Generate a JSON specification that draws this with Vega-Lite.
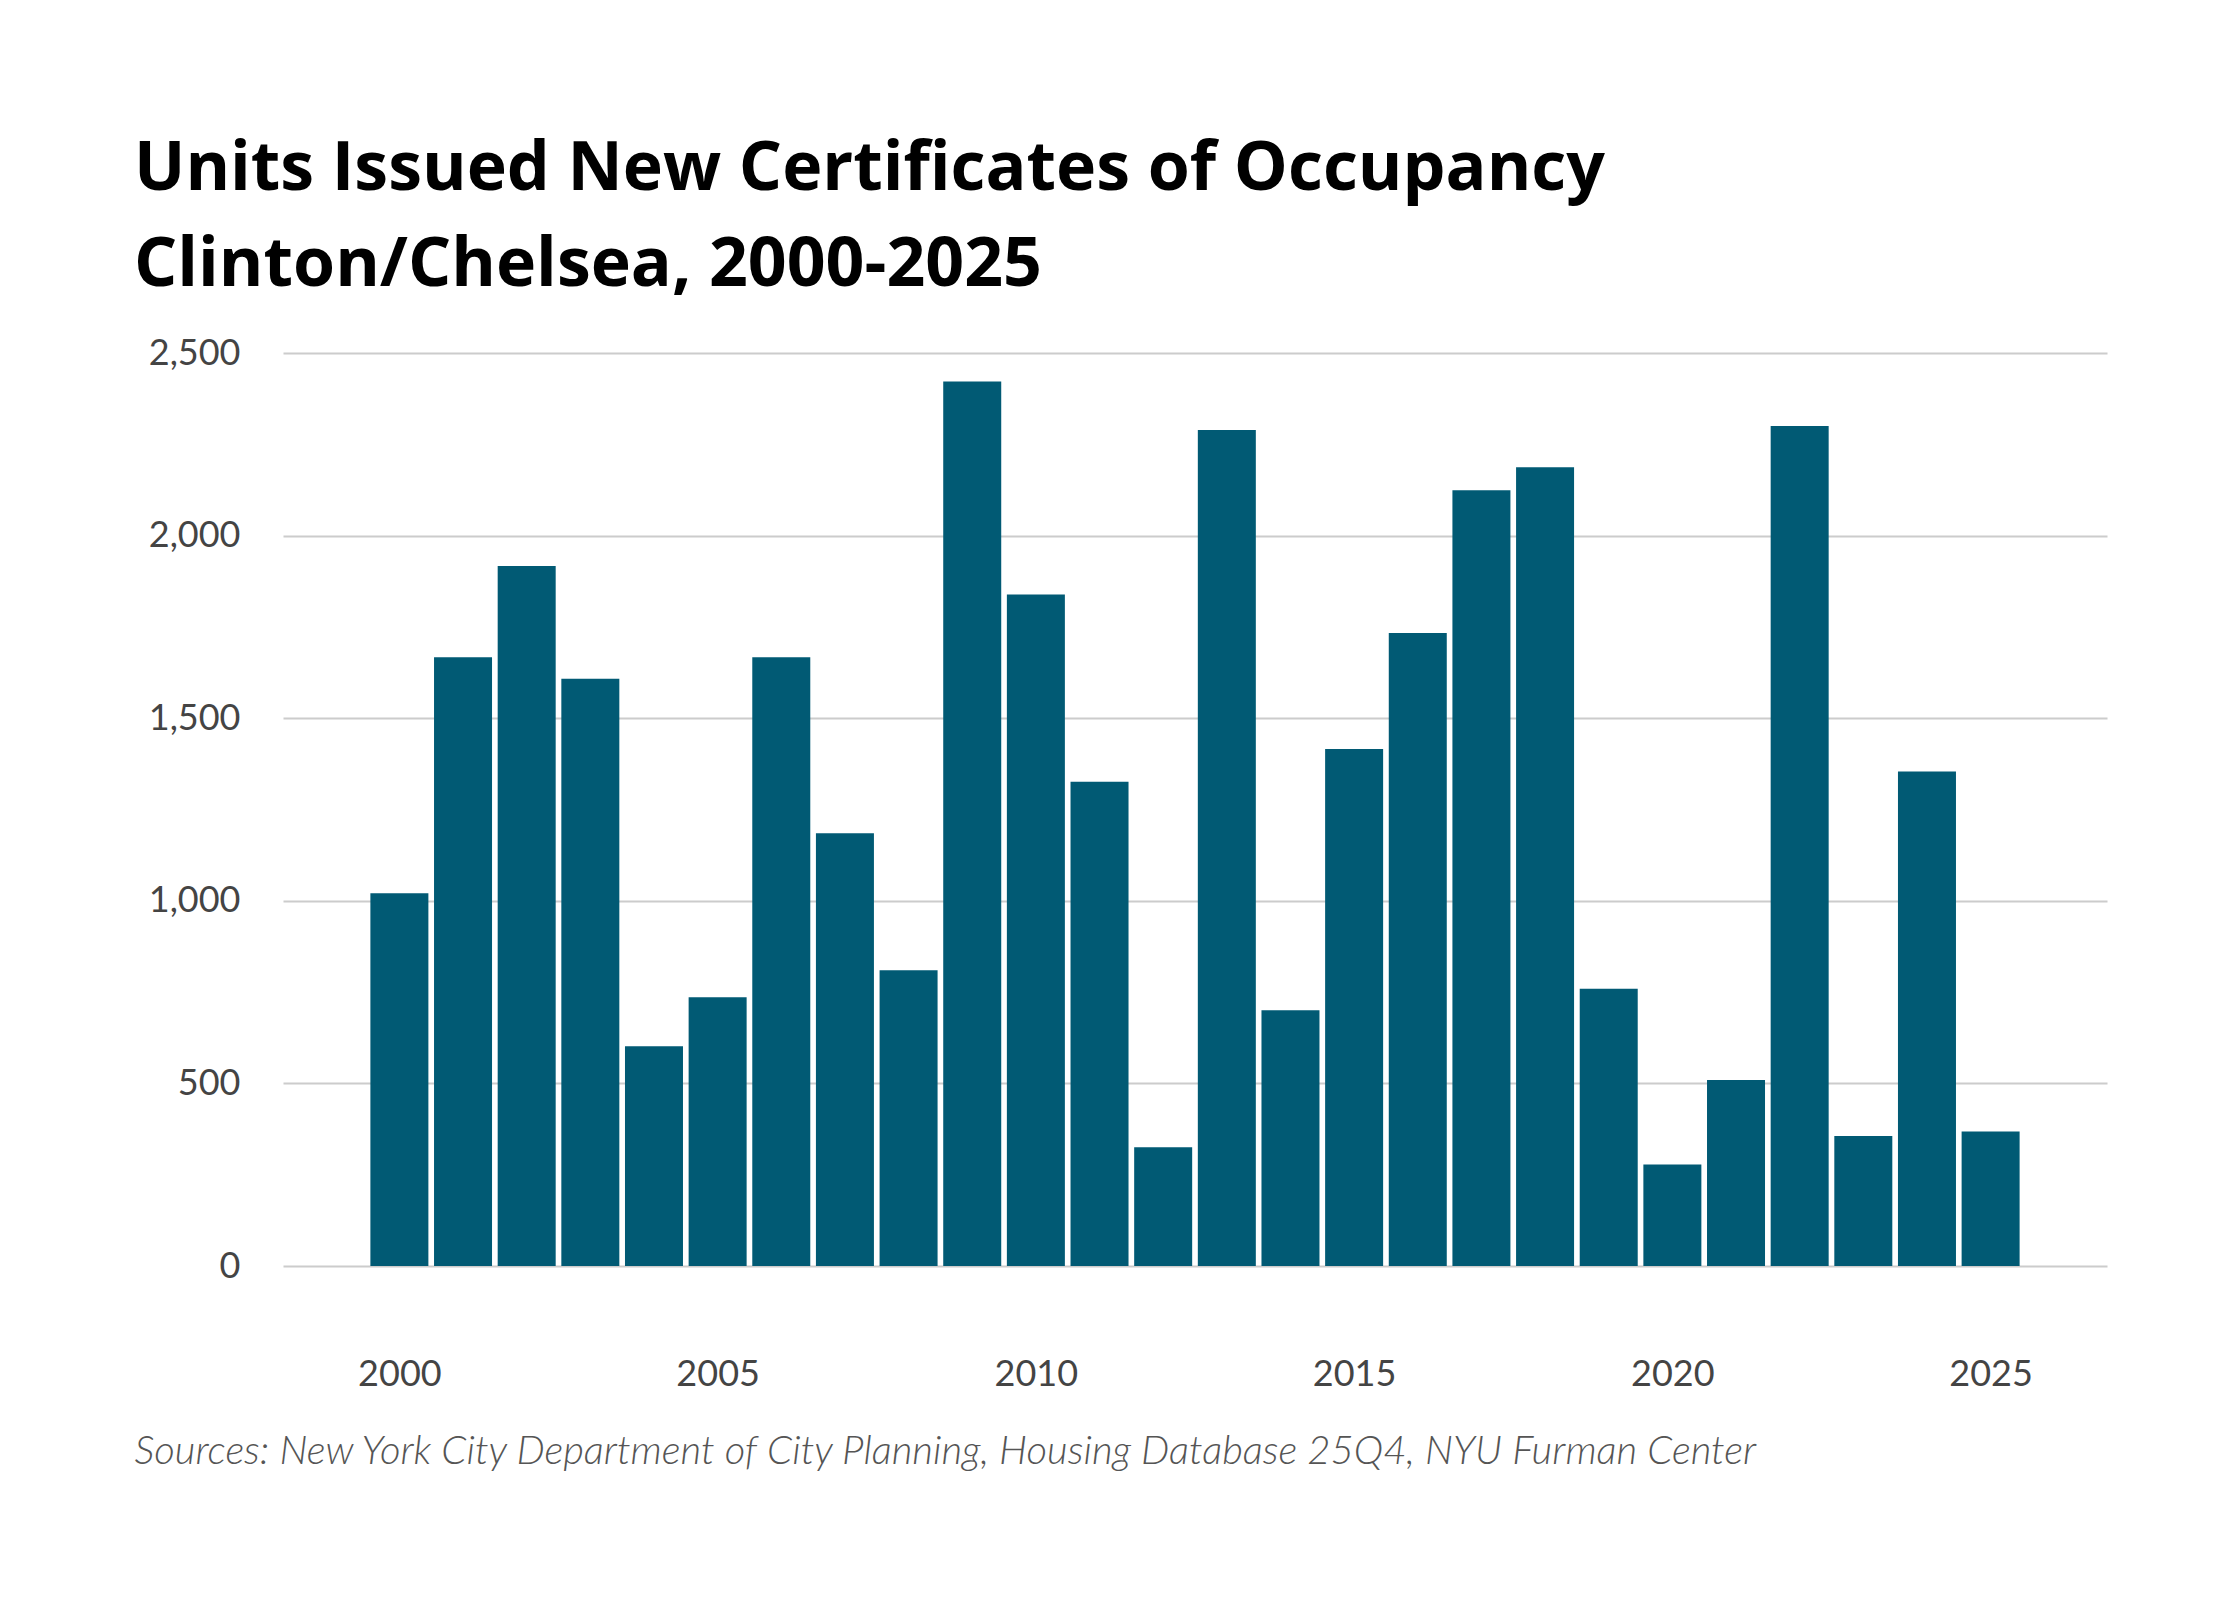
{
  "$schema": "https://vega.github.io/schema/vega-lite/v6.json",
  "description": "Units issued new certificates of occupancy, Clinton/Chelsea, 2000-2025.",
  "autosize": "none",
  "width": 1824,
  "height": 913,
  "padding": {"left": 283, "top": 353, "right": 133, "bottom": 334},
  "background": "white",
  "title": {
    "text": ["Units Issued New Certificates of Occupancy", "Clinton/Chelsea, 2000-2025"],
    "anchor": "start",
    "frame": "group",
    "baseline": "bottom",
    "dx": -149,
    "offset": -33,
    "font": "Open Sans",
    "fontSize": 68,
    "fontWeight": "bold",
    "lineHeight": 96,
    "color": "#000000"
  },
  "data": {
    "values": [
      {"year": 2000, "units": 1021},
      {"year": 2001, "units": 1667},
      {"year": 2002, "units": 1917},
      {"year": 2003, "units": 1608},
      {"year": 2004, "units": 602},
      {"year": 2005, "units": 736},
      {"year": 2006, "units": 1667},
      {"year": 2007, "units": 1185},
      {"year": 2008, "units": 810},
      {"year": 2009, "units": 2422},
      {"year": 2010, "units": 1839},
      {"year": 2011, "units": 1326},
      {"year": 2012, "units": 325},
      {"year": 2013, "units": 2289},
      {"year": 2014, "units": 700},
      {"year": 2015, "units": 1416},
      {"year": 2016, "units": 1733},
      {"year": 2017, "units": 2124},
      {"year": 2018, "units": 2187},
      {"year": 2019, "units": 759},
      {"year": 2020, "units": 278},
      {"year": 2021, "units": 509},
      {"year": 2022, "units": 2300},
      {"year": 2023, "units": 356},
      {"year": 2024, "units": 1354},
      {"year": 2025, "units": 368}
    ]
  },
  "mark": {"type": "bar", "size": 58, "color": "#015a74"},
  "encoding": {
    "x": {
      "field": "year",
      "type": "quantitative",
      "scale": {"domain": [1998.25, 2026.75], "nice": false, "zero": false},
      "axis": {
        "values": [2000, 2005, 2010, 2015, 2020, 2025],
        "format": "d",
        "grid": false,
        "domain": false,
        "ticks": false,
        "labelPadding": 108,
        "labelBaseline": "middle",
        "labelFont": "Lato",
        "labelFontSize": 36,
        "labelColor": "#444444",
        "title": "Sources: New York City Department of City Planning, Housing Database 25Q4, NYU Furman Center",
        "titleX": -149,
        "titleY": 197,
        "titleAlign": "left",
        "titleBaseline": "alphabetic",
        "titleFont": "Lato",
        "titleFontSize": 40,
        "titleFontWeight": 300,
        "titleFontStyle": "italic",
        "titleColor": "#555555"
      }
    },
    "y": {
      "field": "units",
      "type": "quantitative",
      "scale": {"domain": [0, 2500], "nice": false},
      "axis": {
        "values": [0, 500, 1000, 1500, 2000, 2500],
        "format": ",d",
        "grid": true,
        "gridColor": "#cccccc",
        "gridWidth": 2,
        "domain": false,
        "ticks": false,
        "labelPadding": 43,
        "labelBaseline": "middle",
        "labelFont": "Lato",
        "labelFontSize": 36,
        "labelColor": "#444444",
        "title": null
      }
    }
  },
  "config": {"view": {"stroke": null}}
}
